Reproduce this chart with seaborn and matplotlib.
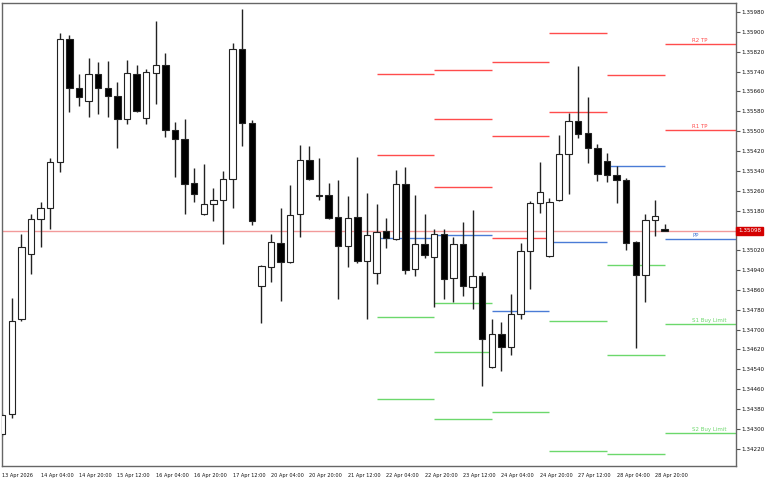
import numpy as np
import pandas as pd
import matplotlib
matplotlib.use('Agg')
from matplotlib import pyplot as plt
from matplotlib import transforms
import seaborn as sns

# H4 candles, 13 Apr 2026 12:00 .. 29 Apr 2026 00:00
opens = [1.34279, 1.34360, 1.34742, 1.35004, 1.35145, 1.35190, 1.35375, 1.35871, 1.35673, 1.35621,
         1.35730, 1.35673, 1.35641, 1.35548, 1.35730, 1.35552, 1.35734, 1.35766, 1.35504, 1.35468,
         1.35291, 1.35166, 1.35206, 1.35222, 1.35307, 1.35830, 1.35532, 1.34875, 1.34952, 1.35049,
         1.34972, 1.35166, 1.35383, 1.35242, 1.35242, 1.35154, 1.35037, 1.35154, 1.34976, 1.34928,
         1.35097, 1.35065, 1.35287, 1.34944, 1.35045, 1.34992, 1.35085, 1.34908, 1.35045, 1.34871,
         1.34916, 1.34549, 1.34682, 1.34630, 1.34763, 1.35016, 1.35210, 1.34996, 1.35222, 1.35407,
         1.35540, 1.35492, 1.35432, 1.35379, 1.35323, 1.35303, 1.35053, 1.34920, 1.35141, 1.35105]
highs = [1.34364, 1.34827, 1.35085, 1.35166, 1.35214, 1.35391, 1.35895, 1.35887, 1.35730, 1.35794,
         1.35778, 1.35782, 1.35697, 1.35786, 1.35766, 1.35750, 1.35943, 1.35814, 1.35536, 1.35548,
         1.35351, 1.35367, 1.35270, 1.35339, 1.35855, 1.35992, 1.35544, 1.34960, 1.35085, 1.35190,
         1.35282, 1.35444, 1.35440, 1.35391, 1.35291, 1.35303, 1.35238, 1.35395, 1.35250, 1.35206,
         1.35150, 1.35343, 1.35355, 1.35242, 1.35166, 1.35105, 1.35105, 1.35073, 1.35133, 1.35182,
         1.34932, 1.34742, 1.34730, 1.34843, 1.35049, 1.35218, 1.35375, 1.35230, 1.35484, 1.35573,
         1.35762, 1.35637, 1.35448, 1.35411, 1.35359, 1.35311, 1.35057, 1.35166, 1.35222, 1.35125]
lows = [1.34271, 1.34344, 1.34734, 1.34924, 1.35033, 1.35105, 1.35335, 1.35577, 1.35601, 1.35556,
        1.35569, 1.35556, 1.35432, 1.35528, 1.35577, 1.35528, 1.35609, 1.35476, 1.35315, 1.35166,
        1.35214, 1.35162, 1.35137, 1.35045, 1.35190, 1.35440, 1.35121, 1.34726, 1.34891, 1.34815,
        1.34968, 1.35073, 1.35303, 1.35222, 1.35145, 1.34823, 1.34952, 1.34968, 1.34742, 1.34883,
        1.35029, 1.35061, 1.34924, 1.34916, 1.34988, 1.34791, 1.34823, 1.34811, 1.34835, 1.34783,
        1.34472, 1.34545, 1.34533, 1.34597, 1.34742, 1.34863, 1.35170, 1.34992, 1.35218, 1.35246,
        1.35472, 1.35371, 1.35299, 1.35295, 1.35210, 1.35021, 1.34626, 1.34811, 1.35077, 1.35098]
closes = [1.34356, 1.34734, 1.35033, 1.35145, 1.35190, 1.35375, 1.35871, 1.35673, 1.35637, 1.35730,
          1.35673, 1.35641, 1.35548, 1.35734, 1.35581, 1.35738, 1.35766, 1.35504, 1.35468, 1.35287,
          1.35246, 1.35206, 1.35222, 1.35307, 1.35830, 1.35532, 1.35137, 1.34956, 1.35053, 1.34972,
          1.35162, 1.35383, 1.35307, 1.35238, 1.35150, 1.35037, 1.35150, 1.34976, 1.35081, 1.35093,
          1.35069, 1.35287, 1.34940, 1.35045, 1.35000, 1.35085, 1.34904, 1.35045, 1.34875, 1.34916,
          1.34662, 1.34682, 1.34630, 1.34763, 1.35016, 1.35210, 1.35254, 1.35214, 1.35407, 1.35540,
          1.35488, 1.35432, 1.35327, 1.35323, 1.35303, 1.35049, 1.34920, 1.35141, 1.35158, 1.35098]

time_labels = ['13 Apr 2026', '14 Apr 04:00', '14 Apr 20:00', '15 Apr 12:00', '16 Apr 04:00',
               '16 Apr 20:00', '17 Apr 12:00', '20 Apr 04:00', '20 Apr 20:00', '21 Apr 12:00',
               '22 Apr 04:00', '22 Apr 20:00', '23 Apr 12:00', '24 Apr 04:00', '24 Apr 20:00',
               '27 Apr 12:00', '28 Apr 04:00', '28 Apr 20:00']

current_price = 1.35098

# daily pivot levels (22, 23, 24, 27, 28, 29 Apr)
day_start = [39, 45, 51, 57, 63, 69]
r3 = [np.nan, 1.35746, 1.35778, np.nan, np.nan, np.nan]
r2 = [1.35730, 1.35548, 1.35480, 1.35895, np.nan, 1.35851]
r1 = [1.35403, 1.35274, 1.35069, 1.35577, 1.35726, 1.35504]
pp = [1.35069, 1.35081, 1.34775, 1.35053, 1.35359, 1.35065]
s1 = [1.34750, 1.34807, 1.34368, 1.34734, 1.34960, 1.34722]
s2 = [1.34420, 1.34609, np.nan, 1.34210, 1.34597, 1.34283]
s3 = [np.nan, 1.34339, np.nan, np.nan, 1.34198, np.nan]
level_names = ['R2 TP', 'R1 TP', 'PP', 'S1 Buy Limit', 'S2 Buy Limit']

RED = '#ff4c4c'
BLUE = '#4a7bd6'
GREEN = '#6cd86c'

sns.set_style('white')
plt.rcParams['font.family'] = ['DejaVu Sans']

df = pd.DataFrame({'open': opens, 'high': highs, 'low': lows, 'close': closes})
df['x'] = np.arange(len(df))
df['bull'] = df['close'] >= df['open']
df['body_lo'] = df[['open', 'close']].min(axis=1)
df['body_h'] = (df['close'] - df['open']).abs().clip(lower=0.000015)

xmin, xmax = -0.02, 76.44
ymin, ymax = 1.341504, 1.360163

fig = plt.figure(figsize=(7.68, 4.8), dpi=100)
ax = fig.add_axes([2 / 768, 14 / 480, 734 / 768, 463 / 480])

# current price line
ax.axhline(current_price, color='#f29a9a', lw=1, zorder=1)

# pivot segments
levels = [(r3, RED), (r2, RED), (r1, RED), (pp, BLUE), (s1, GREEN), (s2, GREEN), (s3, GREEN)]
for k, start in enumerate(day_start):
    end = day_start[k + 1] if k + 1 < len(day_start) else xmax
    for vals, col in levels:
        if not np.isnan(vals[k]):
            ax.hlines(vals[k], start, end, color=col, lw=1, zorder=1)

last = len(day_start) - 1
for name, vals, col in zip(level_names, [r2, r1, pp, s1, s2], [RED, RED, BLUE, GREEN, GREEN]):
    ax.annotate(name, (71.9, vals[last]), xytext=(0, 0.8), textcoords='offset points',
                fontsize=4, color=col, ha='left', va='bottom')

# candles
ax.vlines(df['x'], df['low'], df['high'], color='#222222', lw=1, zorder=2)
ax.bar(df['x'], df['body_h'], bottom=df['body_lo'], width=0.66,
       color=np.where(df['bull'], 'white', 'black'), edgecolor='#222222', linewidth=0.8, zorder=3)

ax.set_xlim(xmin, xmax)
ax.set_ylim(ymin, ymax)

ax.yaxis.tick_right()
yticks = np.round(np.arange(1.34220, 1.35981, 0.0008), 5)
ax.set_yticks(yticks)
ax.set_yticklabels(['{:.5f}'.format(v) for v in yticks])
ax.set_xticks(np.arange(0, 4 * len(time_labels), 4))
ax.set_xticklabels(time_labels, ha='left')
ax.tick_params(axis='both', direction='out', length=3, width=0.8, colors='#555555',
               labelcolor='#111111', pad=1)
ax.tick_params(axis='y', labelsize=4.1)
ax.tick_params(axis='x', labelsize=3.6, pad=2)
for sp in ax.spines.values():
    sp.set_color('#666666')
    sp.set_linewidth(1)

trans = transforms.blended_transform_factory(ax.transAxes, ax.transData)
ax.text(1.003, current_price, '{:.5f}'.format(current_price), transform=trans, fontsize=4.1,
        color='white', ha='left', va='center',
        bbox=dict(boxstyle='square,pad=0.3', fc='#d40000', ec='#d40000'))

fig.savefig('out.png', dpi=100)
